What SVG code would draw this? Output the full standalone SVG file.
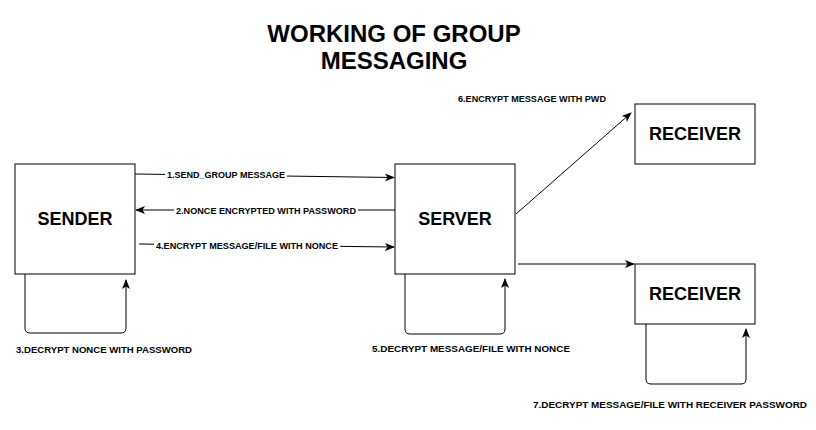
<svg xmlns="http://www.w3.org/2000/svg" width="816" height="430" viewBox="0 0 816 430">
<style>
.box{fill:#fff;stroke:#000;stroke-width:1}
.node{font-family:"Liberation Sans",Arial,sans-serif;font-weight:bold;font-size:18px;text-anchor:middle;fill:#000}
.title{font-family:"Liberation Sans",Arial,sans-serif;font-weight:bold;font-size:24px;text-anchor:middle;fill:#000}
.lbl{font-family:"Liberation Sans",Arial,sans-serif;font-weight:bold;font-size:9.5px;fill:#000}
.edge{fill:none;stroke:#000;stroke-width:1;marker-end:url(#arr)}
.bg{fill:#fff}
</style>
<defs>
<marker id="arr" markerUnits="userSpaceOnUse" markerWidth="10" markerHeight="10" viewBox="0 0 10 10" refX="9" refY="5" orient="auto">
<path d="M0,1 L10,5 L0,9 L2.5,5 Z" fill="#000"/>
</marker>
</defs>
<rect width="816" height="430" fill="#fff"/>
<g id="title">
<text class="title" x="394" y="42">WORKING OF GROUP</text>
<text class="title" x="394" y="69">MESSAGING</text>
</g>
<g id="connectors">
<path class="edge" d="M135,174 L394,177.5"/>
<path class="edge" d="M395,210 L136,210"/>
<path class="edge" d="M139,244 L394,247"/>
<path class="edge" d="M516,214 L631,113"/>
<path class="edge" d="M518,264 L634,264"/>
<path class="edge" d="M25,274 V328 Q25,333 30,333 H121 Q126,333 126,328 V280"/>
<path class="edge" d="M405,274 V329 Q405,334 410,334 H500 Q505,334 505,329 V279"/>
<path class="edge" d="M646,324 V379 Q646,384 651,384 H741 Q746,384 746,379 V329"/>
<rect class="bg" x="165" y="169" width="122" height="10"/>
<text class="lbl" x="167" y="178" textLength="118" lengthAdjust="spacingAndGlyphs">1.SEND_GROUP MESSAGE</text>
<rect class="bg" x="174" y="205" width="184" height="10"/>
<text class="lbl" x="176" y="214" textLength="180" lengthAdjust="spacingAndGlyphs">2.NONCE ENCRYPTED WITH PASSWORD</text>
<rect class="bg" x="154" y="240" width="186" height="10"/>
<text class="lbl" x="156" y="248.5" textLength="182" lengthAdjust="spacingAndGlyphs">4.ENCRYPT MESSAGE/FILE WITH NONCE</text>
<text class="lbl" x="458" y="102" textLength="148" lengthAdjust="spacingAndGlyphs">6.ENCRYPT MESSAGE WITH PWD</text>
<text class="lbl" x="16" y="353" textLength="176" lengthAdjust="spacingAndGlyphs">3.DECRYPT NONCE WITH PASSWORD</text>
<text class="lbl" x="372" y="352" textLength="198" lengthAdjust="spacingAndGlyphs">5.DECRYPT MESSAGE/FILE WITH NONCE</text>
<text class="lbl" x="533" y="408" textLength="274" lengthAdjust="spacingAndGlyphs">7.DECRYPT MESSAGE/FILE WITH RECEIVER PASSWORD</text>
</g>
<g id="sender">
<rect class="box" x="15" y="164" width="120" height="110"/>
<text class="node" x="75" y="225">SENDER</text>
</g>
<g id="server">
<rect class="box" x="395" y="164" width="120" height="110"/>
<text class="node" x="455" y="225">SERVER</text>
</g>
<g id="receiver1">
<rect class="box" x="635" y="104" width="120" height="60"/>
<text class="node" x="695" y="140">RECEIVER</text>
</g>
<g id="receiver2">
<rect class="box" x="635" y="264" width="120" height="60"/>
<text class="node" x="695" y="300">RECEIVER</text>
</g>
</svg>
